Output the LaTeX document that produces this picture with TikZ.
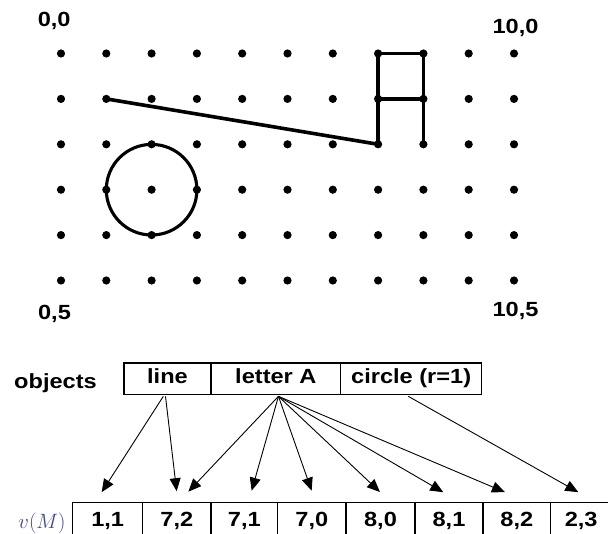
\documentclass[tikz,border=0pt]{standalone}
\usepackage[no-math]{fontspec}
\setmainfont{Liberation Sans}[FakeStretch=1.15]
\usetikzlibrary{arrows.meta,calc}
\definecolor{mathblue}{RGB}{60,70,130}
\begin{document}
\begin{tikzpicture}[x=1pt,y=-1pt,
  lbl/.style={font=\fontsize{20.5}{24}\selectfont\bfseries, inner sep=0pt, anchor=base},
  stroke/.style={line width=3.6pt},
  objcell/.style={draw, line width=1.3pt, font=\fontsize{20.5}{24}\selectfont\bfseries,
    minimum height=31.3pt, text height=14.6pt, text depth=4pt, inner sep=0pt,
    outer sep=0pt, anchor=west},
  vcell/.style={draw, line width=1.3pt, font=\fontsize{20.5}{24}\selectfont\bfseries,
    minimum height=33pt, text height=19pt, text depth=4pt,
    inner sep=0pt, outer sep=0pt, anchor=north west},
  arr/.style={line width=0.9pt, -{Triangle[length=13pt,width=11pt]}}]
\clip (0,0) rectangle (608,534);

% grid of points (column i, row j)
\foreach \i in {0,...,10}
  \foreach \j in {0,...,5}{
    \coordinate (g\i-\j) at ({61+45.3*\i},{53.5+45.4*\j});
    \fill (g\i-\j) circle (4.1);
  }

% corner labels
\node[lbl] (l00)  at (54.2,26.7)  {0,0};
\node[lbl] (l100) at (515.5,33.3) {10,0};
\node[lbl] (l05)  at (54.5,320)   {0,5};
\node[lbl] (l105) at (515.5,316.7){10,5};

% the objects on the grid
\draw[stroke] (g1-1) -- (g7-2);
\draw[stroke] (g7-2) -- (g7-0) -- (g8-0) -- (g8-2);
\draw[stroke] (g7-1) -- (g8-1);
\draw[line width=3.1pt] (g2-3) circle (45.3);

% object table
\node[lbl] (objlbl) at (55.5,389) {objects};
\node[objcell, minimum width=87pt]    (oline) at (124,378.7) {line};
\node[objcell, minimum width=129.7pt] (oA)    at (oline.east) {letter A};
\node[objcell, minimum width=141pt]   (ocirc) at (oA.east) {circle (r=1)};

% value table
\node[anchor=base, text=mathblue, font=\fontsize{20}{24}\selectfont, inner sep=0pt] (vm) at (42,528.3) {$v(M)$};
\node[vcell, minimum width=70pt]   (c1) at (72.7,502.7) {1,1};
\node[vcell, minimum width=68.3pt] (c2) at (c1.north east) {7,2};
\node[vcell, minimum width=66.7pt] (c3) at (c2.north east) {7,1};
\node[vcell, minimum width=68.3pt] (c4) at (c3.north east) {7,0};
\node[vcell, minimum width=69pt]   (c5) at (c4.north east) {8,0};
\node[vcell, minimum width=68pt]   (c6) at (c5.north east) {8,1};
\node[vcell, minimum width=67.7pt] (c7) at (c6.north east) {8,2};
\node[vcell, minimum width=61pt]   (c8) at (c7.north east) {2,3};

% arrow ends
\coordinate (sL1) at ([xshift=-4.2pt,yshift=-2pt]oline.south);
\coordinate (sL2) at ([xshift=-2pt,yshift=-2pt]oline.south);
\coordinate (sA)  at ([xshift=2.6pt,yshift=-2pt]oA.south);
\coordinate (sC)  at ([xshift=-2.9pt,yshift=-2pt]ocirc.south);
\coordinate (t1)  at ([xshift=-6pt,yshift=10.5pt]c1.north);
\coordinate (t2a) at ([xshift=-0.2pt,yshift=11.5pt]c2.north);
\coordinate (t2b) at ([xshift=11.5pt,yshift=11pt]c2.north);
\coordinate (t3)  at ([xshift=7.3pt,yshift=12pt]c3.north);
\coordinate (t4)  at ([xshift=-0.2pt,yshift=12pt]c4.north);
\coordinate (t5)  at ([xshift=-0.5pt,yshift=10.7pt]c5.north);
\coordinate (t6)  at ([xshift=-5.7pt,yshift=10.5pt]c6.north);
\coordinate (t7)  at ([xshift=-11.9pt,yshift=10.5pt]c7.north);
\coordinate (t8)  at ([xshift=-2.9pt,yshift=10.5pt]c8.north);

% mapping arrows
\draw[arr] (sL1) -- (t1);
\draw[arr] (sL2) -- (t2a);
\draw[arr] (sA) -- (t2b);
\draw[arr] (sA) -- (t3);
\draw[arr] (sA) -- (t4);
\draw[arr] (sA) -- (t5);
\draw[arr] (sA) -- (t6);
\draw[arr] (sA) -- (t7);
\draw[arr] (sC) -- (t8);
\end{tikzpicture}
\end{document}
